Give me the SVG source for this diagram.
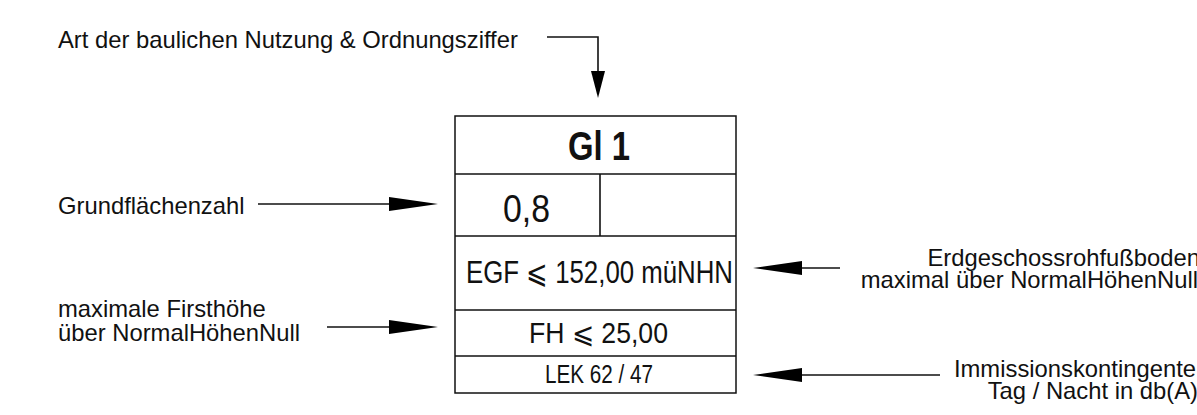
<svg xmlns="http://www.w3.org/2000/svg" width="1197" height="415" viewBox="0 0 1197 415">
<style>
.lbl{font-family:"Liberation Sans",Arial,sans-serif;font-size:23.8px;fill:#111}
.tb{font-family:"Liberation Sans Narrow","Liberation Sans",Arial,sans-serif;fill:#111}
.ln{stroke:#111;stroke-width:1.6;fill:none}
.hd{fill:#000;stroke:none}
.bx{stroke:#111;stroke-width:1.5;fill:#fff}
</style>
<rect width="1197" height="415" fill="#fff"/>
<g id="table">
<rect class="bx" x="455" y="116" width="281" height="277"/>
<line class="ln" x1="455" y1="174" x2="736" y2="174"/>
<line class="ln" x1="455" y1="236" x2="736" y2="236"/>
<line class="ln" x1="455" y1="310" x2="736" y2="310"/>
<line class="ln" x1="455" y1="356" x2="736" y2="356"/>
<line class="ln" x1="600" y1="174" x2="600" y2="236"/>
<text class="tb" x="568" y="160" font-size="40" font-weight="bold" textLength="62" lengthAdjust="spacingAndGlyphs">Gl 1</text>
<text class="tb" x="503" y="222" font-size="38" textLength="47" lengthAdjust="spacingAndGlyphs">0,8</text>
<text class="tb" x="466" y="283" font-size="32" textLength="267" lengthAdjust="spacingAndGlyphs">EGF ⩽ 152,00 müNHN</text>
<text class="tb" x="529" y="343" font-size="29" textLength="139" lengthAdjust="spacingAndGlyphs">FH ⩽ 25,00</text>
<text class="tb" x="545" y="383" font-size="25.5" textLength="108" lengthAdjust="spacingAndGlyphs">LEK 62 / 47</text>
</g>
<g id="label-art">
<text class="lbl" x="58" y="48">Art der baulichen Nutzung &amp; Ordnungsziffer</text>
</g>
<g id="label-grz">
<text class="lbl" x="58" y="214">Grundflächenzahl</text>
</g>
<g id="label-fh">
<text class="lbl" x="58" y="317">maximale Firsthöhe</text>
<text class="lbl" x="58" y="341">über NormalHöhenNull</text>
</g>
<g id="label-egf">
<text class="lbl" x="1200" y="266" text-anchor="end">Erdgeschossrohfußboden</text>
<text class="lbl" x="1198" y="288" text-anchor="end">maximal über NormalHöhenNull</text>
</g>
<g id="label-lek">
<text class="lbl" x="1196" y="377" text-anchor="end">Immissionskontingente</text>
<text class="lbl" x="1198" y="399" text-anchor="end">Tag / Nacht in db(A)</text>
</g>
<g id="connectors">
<polyline class="ln" points="547,37 598,37 598,72"/>
<polygon class="hd" points="591,71 605,71 598,98"/>
<line class="ln" x1="258" y1="204" x2="390" y2="204"/>
<polygon class="hd" points="389,197 389,211 438,204"/>
<line class="ln" x1="327" y1="327" x2="390" y2="327"/>
<polygon class="hd" points="389,320 389,334 438,327"/>
<line class="ln" x1="801" y1="268" x2="840" y2="268"/>
<polygon class="hd" points="802,261 802,275 753,268"/>
<line class="ln" x1="801" y1="375" x2="940" y2="375"/>
<polygon class="hd" points="802,368 802,382 753,375"/>
</g>
</svg>
